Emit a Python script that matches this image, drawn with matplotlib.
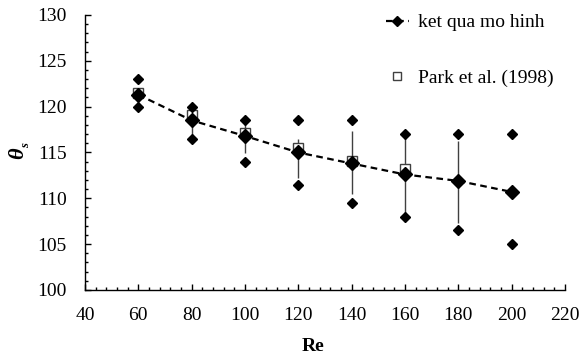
import matplotlib
matplotlib.use("Agg")
import matplotlib.pyplot as plt
from matplotlib.ticker import MultipleLocator

# Data
re_vals = [60, 80, 100, 120, 140, 160, 180, 200]
model = [121.3, 118.5, 116.8, 115.0, 113.8, 112.6, 111.9, 110.7]
model_upper = [123.0, 120.0, 118.5, 118.5, 118.5, 117.0, 117.0, 117.0]
model_lower = [120.0, 116.5, 114.0, 111.5, 109.5, 108.0, 106.5, 105.0]
bar_top = [122.0, 119.8, 118.2, 116.5, 117.3, 117.0, 116.2, 110.8]
bar_bot = [120.8, 116.3, 114.9, 112.2, 110.5, 108.2, 107.3, 110.7]
park_re = [60, 80, 100, 120, 140, 160]
park = [121.5, 119.1, 117.1, 115.5, 114.1, 113.2]

plt.rcParams['font.family'] = ['Liberation Serif', 'DejaVu Serif']

fig = plt.figure(figsize=(5.87, 3.56), dpi=100)
ax = fig.add_axes([0.1448, 0.1854, 0.8177, 0.7725])

# error bars (vertical lines)
ax.vlines(re_vals, bar_bot, bar_top, colors='#404040', linewidth=1.0, zorder=2)

# Park squares
ax.plot(park_re, park, linestyle='none', marker='s', markersize=7,
        markerfacecolor='white', markeredgecolor='#404040', markeredgewidth=1.0,
        zorder=3, label='Park et al. (1998)')

# small diamonds
ax.plot(re_vals, model_upper, linestyle='none', marker='D', markersize=5,
        color='black', zorder=4)
ax.plot(re_vals, model_lower, linestyle='none', marker='D', markersize=5,
        color='black', zorder=4)

# model line
ax.plot(re_vals, model, linestyle=(0, (3, 2)), linewidth=1.6, color='black',
        marker='D', markersize=7, zorder=5, label='ket qua mo hinh')

ax.set_xlim(40, 220)
ax.set_ylim(100, 130)
ax.xaxis.set_major_locator(MultipleLocator(20))
ax.xaxis.set_minor_locator(MultipleLocator(4))
ax.yaxis.set_major_locator(MultipleLocator(5))
ax.yaxis.set_minor_locator(MultipleLocator(1))
ax.tick_params(which='both', direction='in', labelsize=14, width=1)
ax.tick_params(which='major', length=4)
ax.tick_params(which='minor', length=2.5)
ax.tick_params(axis='x', pad=12)
ax.tick_params(axis='y', pad=13)
for s in ['top', 'right']:
    ax.spines[s].set_visible(False)
for s in ['left', 'bottom']:
    ax.spines[s].set_linewidth(1.0)

ax.set_xlabel('Re', fontsize=14, fontweight='bold')
ax.xaxis.set_label_coords(0.475, -0.205, transform=ax.transAxes)
ax.xaxis.label.set_verticalalignment('center')

# y label: bold italic theta with subscript s
fig.text(18 / 587, 1 - 153 / 356, 'θ', fontsize=16, fontweight='bold',
         fontstyle='italic', ha='center', va='center', rotation=90)
fig.text(26 / 587, 1 - 146 / 356, 's', fontsize=9, fontweight='bold',
         fontstyle='italic', ha='center', va='center', rotation=90)

handles, labels = ax.get_legend_handles_labels()
order = [1, 0]
leg = ax.legend([handles[i] for i in order], [labels[i] for i in order],
                loc='upper left', bbox_to_anchor=(0.59, 1.068), frameon=False,
                fontsize=14, handlelength=1.2, handletextpad=0.45,
                labelspacing=1.95, markerscale=0.8)

fig.savefig('out.png', dpi=100)
